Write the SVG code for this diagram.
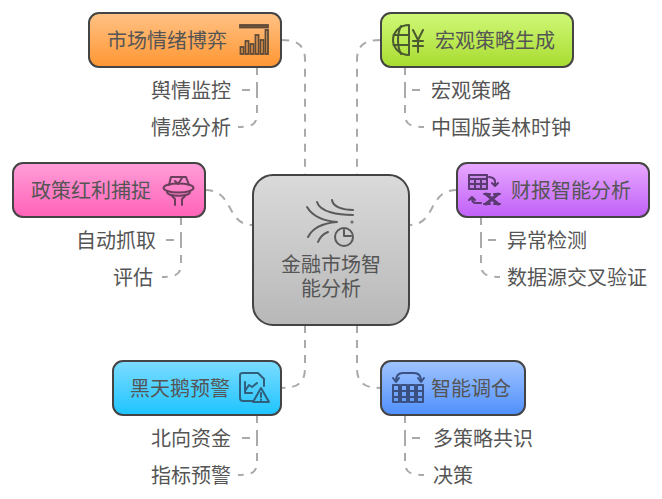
<svg xmlns="http://www.w3.org/2000/svg" width="662" height="499" viewBox="0 0 662 499">
<style>
text{font-family:"Noto Sans CJK SC","Noto Sans",sans-serif;font-size:20px;fill:#555;dominant-baseline:central}
.n{stroke:#444;stroke-width:2}
.c{fill:none;stroke:#aaa;stroke-width:2;stroke-dasharray:8 7}
.i{fill:none;stroke-width:2;stroke-linecap:round;stroke-linejoin:round}
.o{stroke:#5e4a38}.g{stroke:#4a5a30}.p{stroke:#6a3f5c}.v{stroke:#5a3a70}.b{stroke:#2f5f7c}.w{stroke:#3a5080}.m{stroke:#5a5a5a}
</style>
<defs>
<linearGradient id="go" x1="0" y1="0" x2="0" y2="1"><stop offset="0" stop-color="#ffc285"/><stop offset="1" stop-color="#ff9632"/></linearGradient>
<linearGradient id="gg" x1="0" y1="0" x2="0" y2="1"><stop offset="0" stop-color="#d0f878"/><stop offset="1" stop-color="#a8dc30"/></linearGradient>
<linearGradient id="gp" x1="0" y1="0" x2="0" y2="1"><stop offset="0" stop-color="#ff9ed8"/><stop offset="1" stop-color="#ff62b8"/></linearGradient>
<linearGradient id="gv" x1="0" y1="0" x2="0" y2="1"><stop offset="0" stop-color="#e8a8ff"/><stop offset="1" stop-color="#c060f8"/></linearGradient>
<linearGradient id="gb" x1="0" y1="0" x2="0" y2="1"><stop offset="0" stop-color="#7cdcff"/><stop offset="1" stop-color="#1ec4ff"/></linearGradient>
<linearGradient id="gw" x1="0" y1="0" x2="0" y2="1"><stop offset="0" stop-color="#a0c4ff"/><stop offset="1" stop-color="#5090fc"/></linearGradient>
<linearGradient id="gc" x1="0" y1="0" x2="0" y2="1"><stop offset="0" stop-color="#dadada"/><stop offset="1" stop-color="#b8b8b8"/></linearGradient>
</defs>
<g id="connectors">
<path class="c" d="M281 40C296 40 305 44 305 60V175"/>
<path class="c" d="M381 40C366 40 357 44 357 60V175"/>
<path class="c" d="M205 190C235 190 225 225 253 225"/>
<path class="c" d="M457 190C427 190 437 225 409 225"/>
<path class="c" d="M305 325V368C305 384 296 388 281 388"/>
<path class="c" d="M357 325V368C357 384 366 388 381 388"/>
<path class="c" d="M257 67V90H239"/>
<path class="c" d="M257 90V114C257 124 252 127 238 127"/>
<path class="c" d="M405 67V90H423"/>
<path class="c" d="M405 90V114C405 124 410 127 424 127"/>
<path class="c" d="M181 217V240H163"/>
<path class="c" d="M181 240V264C181 274 176 277 162 277"/>
<path class="c" d="M481 217V240H499"/>
<path class="c" d="M481 240V264C481 274 486 277 500 277"/>
<path class="c" d="M257 415V438H239"/>
<path class="c" d="M257 438V462C257 472 252 475 238 475"/>
<path class="c" d="M405 415V438H423"/>
<path class="c" d="M405 438V462C405 472 410 475 424 475"/>
</g>
<g id="center">
<rect class="n" x="253" y="175" width="156" height="150" rx="20" fill="url(#gc)"/>
<g class="i m">
<path d="M307 207C313 217 325 221 337 222C325 223 313 227 308 237"/>
<path d="M317 202C320 212 338 215 353 215"/>
<path d="M332 200C333 207 343 210 353 210"/>
<path d="M318 242C320 237 323 234 328 232"/>
<circle cx="344" cy="237" r="9"/>
<path d="M344 230V236H351"/>
<circle cx="352" cy="222" r=".5"/>
</g>
<text text-anchor="middle"><tspan x="331" y="263">金融市场智</tspan><tspan x="331" y="287">能分析</tspan></text>
</g>
<g id="n1">
<rect class="n" x="89" y="13" width="192" height="54" rx="10" fill="url(#go)"/>
<text x="107" y="39">市场情绪博弈</text>
<g class="o" fill="none" stroke-width="1.8">
<rect x="240" y="25" width="28" height="2.500" fill="#7a5a3a"/>
<rect x="240.500" y="47" width="3" height="7"/><rect x="245.500" y="41" width="3" height="13"/><rect x="250.500" y="44" width="3" height="10"/><rect x="255.500" y="35" width="3" height="19"/><rect x="260.500" y="40" width="3" height="14"/><rect x="265.500" y="30" width="2.500" height="24"/>
</g>
</g>
<g id="n1a"><text x="151" y="89">舆情监控</text></g>
<g id="n1b"><text x="151" y="126">情感分析</text></g>
<g id="n2">
<rect class="n" x="381" y="13" width="192" height="54" rx="10" fill="url(#gg)"/>
<text x="435" y="39">宏观策略生成</text>
<g class="i g">
<path d="M409 25V55C400 55 393 48 393 40C393 32 400 25 409 25Z"/>
<path d="M393.500 35H409M393.500 45H409M401 26C397 34 397 46 401 54"/>
<path d="M413 30L418 40L423 30M418 40V52M413 41H423M413 46H423"/>
</g>
</g>
<g id="n2a"><text x="431" y="89">宏观策略</text></g>
<g id="n2b"><text x="431" y="126">中国版美林时钟</text></g>
<g id="n3">
<rect class="n" x="13" y="163" width="192" height="54" rx="10" fill="url(#gp)"/>
<text x="31" y="189">政策红利捕捉</text>
<g class="i p">
<path d="M169 185L171 177H186L189 185"/>
<path d="M175 181L178 184L182 178"/>
<ellipse cx="178.500" cy="188" rx="15" ry="4.500"/>
<path d="M167 192C167 197 190 197 190 192"/>
<path d="M172 196L175 199V205M185 196L182 199V205"/>
</g>
</g>
<g id="n3a"><text x="76" y="239">自动抓取</text></g>
<g id="n3b"><text x="113" y="276">评估</text></g>
<g id="n4">
<rect class="n" x="457" y="163" width="192" height="54" rx="10" fill="url(#gv)"/>
<text x="511" y="189">财报智能分析</text>
<g class="i v">
<rect x="469" y="175" width="18" height="14" fill="#5a3a70" fill-opacity=".15"/>
<path d="M469 179H487M469 184H487M475 179V189M481 179V189"/>
<path d="M489 177C494 177 496 180 495 185M492 183L495 186L498 183"/>
<path d="M481 203H476C473 203 472 201 472 198M469 200L472 197L475 200"/>
<path d="M486 194L498 204M498 194L486 204" stroke-width="3"/>
<path d="M484 194H490M494 194H500M484 204H490M494 204H500"/>
</g>
</g>
<g id="n4a"><text x="507" y="239">异常检测</text></g>
<g id="n4b"><text x="507" y="276">数据源交叉验证</text></g>
<g id="n5">
<rect class="n" x="113" y="361" width="168" height="54" rx="10" fill="url(#gb)"/>
<text x="130" y="387">黑天鹅预警</text>
<g class="i b">
<path d="M253 401H243C241 401 240 400 240 398V375C240 374 241 373 243 373H258L264 379V386"/>
<path d="M245 382V393H252M245 391L249 385L252 387L257 383"/>
<path d="M261 388L269 402H253Z"/>
<path d="M261 393V397M261 399.500V400"/>
</g>
</g>
<g id="n5a"><text x="151" y="437">北向资金</text></g>
<g id="n5b"><text x="151" y="474">指标预警</text></g>
<g id="n6">
<rect class="n" x="381" y="361" width="144" height="54" rx="10" fill="url(#gw)"/>
<text x="431" y="387">智能调仓</text>
<g class="i w">
<rect x="393" y="385" width="6" height="17"/><rect x="401" y="385" width="6" height="17"/><rect x="409" y="385" width="6" height="17"/><rect x="417" y="385" width="6" height="17"/>
<path d="M393 391H399M393 397H399M401 391H407M401 397H407M409 391H415M409 397H415M417 391H423M417 397H423"/>
<path d="M396 381C396 376 398 373 403 373H414C419 373 421 376 421 381"/>
<path d="M393 378L396 382L399 378M418 378L421 382L424 378"/>
</g>
</g>
<g id="n6a"><text x="433" y="437">多策略共识</text></g>
<g id="n6b"><text x="433" y="474">决策</text></g>
</svg>
